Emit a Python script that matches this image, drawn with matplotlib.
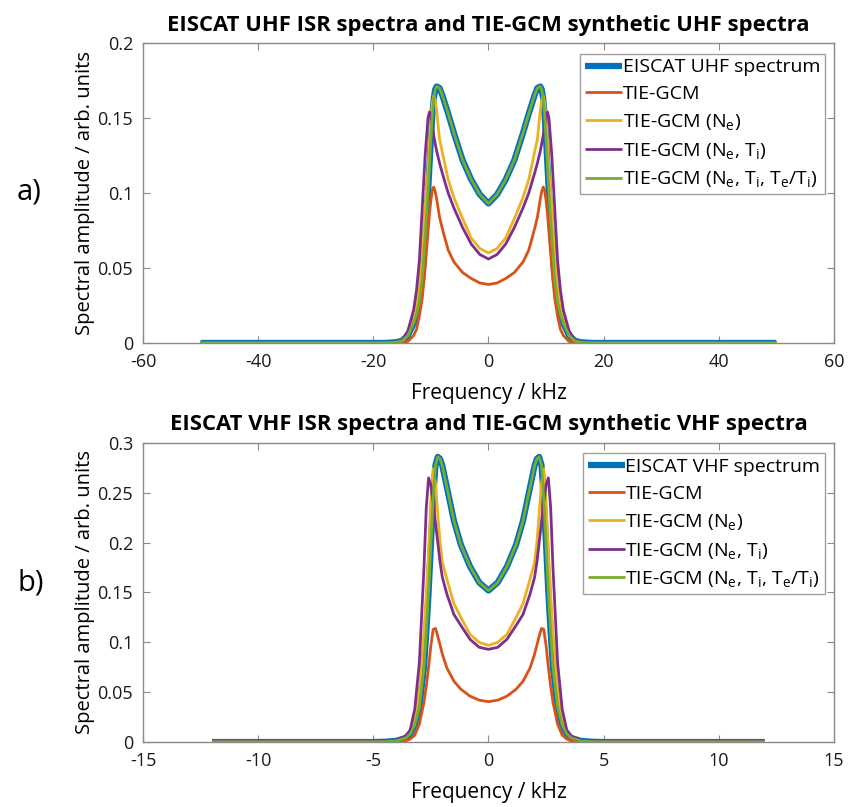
import matplotlib
matplotlib.use("Agg")
import matplotlib.pyplot as plt

# frequency grids (kHz)
freq_uhf = [-50, -18, -16, -15, -14, -13, -12.5, -12, -11.5, -11, -10.5, -10.25, -10, -9.75, -9.5, -9.25, -9,
            -8.5, -8, -7, -6, -4.5, -3, -1.5,
            0, 1.5, 3, 4.5, 6, 7, 8, 8.5, 9, 9.25, 9.5, 9.75, 10, 10.25, 10.5, 11, 11.5, 12, 12.5, 13, 14, 15,
            16, 18, 50]
freq_vhf = [-12, -5, -4.5, -4, -3.6, -3.4, -3.2, -3, -2.8, -2.7, -2.6, -2.5, -2.4, -2.3, -2.2, -2.1, -2, -1.8,
            -1.5, -1.2, -0.8, -0.4,
            0, 0.4, 0.8, 1.2, 1.5, 1.8, 2, 2.1, 2.2, 2.3, 2.4, 2.5, 2.6, 2.7, 2.8, 3, 3.2, 3.4, 3.6, 4, 4.5, 5, 12]

# UHF spectra (arb. units)
eiscat_uhf = [0, 0, 0.0005, 0.0015, 0.005, 0.013, 0.019, 0.028, 0.043, 0.07, 0.1, 0.118, 0.136, 0.152, 0.163,
              0.169, 0.171, 0.17, 0.165, 0.153, 0.14, 0.122, 0.109, 0.099,
              0.093, 0.099, 0.109, 0.122, 0.14, 0.153, 0.165, 0.17, 0.171, 0.169, 0.163, 0.152, 0.136, 0.118,
              0.1, 0.07, 0.043, 0.028, 0.019, 0.013, 0.005, 0.0015, 0.0005, 0, 0]
tgcm_uhf = [0, 0, 0, 0.0003, 0.001, 0.005, 0.009, 0.018, 0.03, 0.05, 0.074, 0.086, 0.095, 0.102, 0.104, 0.101,
            0.096, 0.084, 0.076, 0.062, 0.054, 0.047, 0.043, 0.04,
            0.039, 0.04, 0.043, 0.047, 0.054, 0.062, 0.076, 0.084, 0.096, 0.101, 0.104, 0.102, 0.095, 0.086,
            0.074, 0.05, 0.03, 0.018, 0.009, 0.005, 0.001, 0.0003, 0, 0, 0]
tgcm_ne_uhf = [0, 0, 0.0004, 0.0015, 0.005, 0.015, 0.024, 0.037, 0.06, 0.09, 0.115, 0.134, 0.15, 0.16, 0.165,
               0.162, 0.155, 0.136, 0.127, 0.109, 0.097, 0.083, 0.07, 0.063,
               0.06, 0.063, 0.07, 0.083, 0.097, 0.109, 0.127, 0.136, 0.155, 0.162, 0.165, 0.16, 0.15, 0.134,
               0.115, 0.09, 0.06, 0.037, 0.024, 0.015, 0.005, 0.0015, 0.0004, 0, 0]
tgcm_neti_uhf = [0, 0, 0.0006, 0.002, 0.008, 0.022, 0.035, 0.055, 0.09, 0.125, 0.15, 0.154, 0.152, 0.145, 0.138,
                 0.133, 0.128, 0.12, 0.113, 0.1, 0.09, 0.077, 0.066, 0.059,
                 0.056, 0.059, 0.066, 0.077, 0.09, 0.1, 0.113, 0.12, 0.128, 0.133, 0.138, 0.145, 0.152, 0.154,
                 0.15, 0.125, 0.09, 0.055, 0.035, 0.022, 0.008, 0.002, 0.0006, 0, 0]
tgcm_all_uhf = eiscat_uhf  # lies on top of the measured spectrum

# VHF spectra (arb. units)
eiscat_vhf = [0, 0, 0.0003, 0.0012, 0.004, 0.008, 0.017, 0.035, 0.075, 0.11, 0.15, 0.198, 0.245, 0.278, 0.286,
              0.284, 0.277, 0.255, 0.222, 0.198, 0.176, 0.16,
              0.152, 0.16, 0.176, 0.198, 0.222, 0.255, 0.277, 0.284, 0.286, 0.278, 0.245, 0.198, 0.15, 0.11,
              0.075, 0.035, 0.017, 0.008, 0.004, 0.0012, 0.0003, 0, 0]
tgcm_vhf = [0, 0, 0, 0.0003, 0.001, 0.003, 0.007, 0.018, 0.04, 0.056, 0.075, 0.097, 0.113, 0.114, 0.106, 0.097,
            0.088, 0.074, 0.061, 0.053, 0.046, 0.042,
            0.0405, 0.042, 0.046, 0.053, 0.061, 0.074, 0.088, 0.097, 0.106, 0.114, 0.113, 0.097, 0.075, 0.056,
            0.04, 0.018, 0.007, 0.003, 0.001, 0.0003, 0, 0, 0]
tgcm_ne_vhf = [0, 0, 0.0004, 0.0015, 0.005, 0.01, 0.022, 0.05, 0.11, 0.148, 0.19, 0.24, 0.274, 0.26, 0.228, 0.2,
               0.18, 0.163, 0.139, 0.125, 0.108, 0.1,
               0.097, 0.1, 0.108, 0.125, 0.139, 0.163, 0.18, 0.2, 0.228, 0.26, 0.274, 0.24, 0.19, 0.148, 0.11,
               0.05, 0.022, 0.01, 0.005, 0.0015, 0.0004, 0, 0]
tgcm_neti_vhf = [0, 0, 0.0005, 0.002, 0.006, 0.012, 0.033, 0.08, 0.175, 0.235, 0.265, 0.258, 0.24, 0.22, 0.2,
                 0.18, 0.165, 0.148, 0.128, 0.117, 0.103, 0.095,
                 0.093, 0.095, 0.103, 0.117, 0.128, 0.148, 0.165, 0.18, 0.2, 0.22, 0.24, 0.258, 0.265, 0.235,
                 0.175, 0.08, 0.033, 0.012, 0.006, 0.002, 0.0005, 0, 0]
tgcm_all_vhf = eiscat_vhf

labels_uhf = ["EISCAT UHF spectrum", "TIE-GCM", r"TIE-GCM (N$_{\rm e}$)",
              r"TIE-GCM (N$_{\rm e}$, T$_{\rm i}$)",
              r"TIE-GCM (N$_{\rm e}$, T$_{\rm i}$, T$_{\rm e}$/T$_{\rm i}$)"]
labels_vhf = ["EISCAT VHF spectrum"] + labels_uhf[1:]

COLORS = ["#0072BD", "#D95319", "#EDB120", "#7E2F8E", "#77AC30"]
WIDTHS = [4.5, 2.0, 2.0, 2.0, 2.0]
GREY = "#8a8a8a"

plt.rcParams["font.family"] = ["Open Sans", "DejaVu Sans"]
plt.rcParams["mathtext.fontset"] = "custom"
plt.rcParams["mathtext.rm"] = "Open Sans"
plt.rcParams["mathtext.it"] = "Open Sans:italic"
plt.rcParams["axes.unicode_minus"] = False


def draw_panel(ax, freq, series, labels, title, xlim, xticks, ylim, yticks):
    for vals, lab, c, lw in zip(series, labels, COLORS, WIDTHS):
        ax.plot(freq, vals, color=c, lw=lw, label=lab, solid_joinstyle="round", solid_capstyle="butt")
    ax.set_xlim(xlim)
    ax.set_ylim(ylim)
    ax.set_xticks(xticks)
    ax.set_yticks(yticks)
    ax.set_yticklabels([f"{t:g}" for t in yticks])
    ax.tick_params(direction="in", top=True, right=True, labelsize=13, labelcolor="#1a1a1a",
                   color=GREY, length=5, width=0.8)
    ax.tick_params(axis="y", pad=7)
    ax.tick_params(axis="x", pad=7)
    for s in ax.spines.values():
        s.set_color(GREY)
        s.set_linewidth(1.0)
    ax.set_title(title, fontsize=15.8, fontweight="bold", pad=9)
    ax.set_xlabel("Frequency / kHz", fontsize=15, labelpad=9)
    ax.set_ylabel("Spectral amplitude / arb. units", fontsize=14.5, labelpad=2)
    leg = ax.legend(loc="upper right", fontsize=14, frameon=True, fancybox=False,
                    handlelength=1.9, handletextpad=0.05, borderpad=0.25, labelspacing=0.45,
                    bbox_to_anchor=(0.9875, 0.965), borderaxespad=0.0)
    leg.get_frame().set_edgecolor(GREY)
    leg.get_frame().set_linewidth(1.0)


fig = plt.figure(figsize=(8.53, 8.07), dpi=100)
ax1 = fig.add_axes([0.1676, 0.575, 0.8101, 0.3717])
ax2 = fig.add_axes([0.1676, 0.0805, 0.8101, 0.3706])

draw_panel(ax1, freq_uhf, [eiscat_uhf, tgcm_uhf, tgcm_ne_uhf, tgcm_neti_uhf, tgcm_all_uhf], labels_uhf,
           "EISCAT UHF ISR spectra and TIE-GCM synthetic UHF spectra",
           (-60, 60), range(-60, 61, 20), (0, 0.2), [0, 0.05, 0.1, 0.15, 0.2])
draw_panel(ax2, freq_vhf, [eiscat_vhf, tgcm_vhf, tgcm_ne_vhf, tgcm_neti_vhf, tgcm_all_vhf], labels_vhf,
           "EISCAT VHF ISR spectra and TIE-GCM synthetic VHF spectra",
           (-15, 15), range(-15, 16, 5), (0, 0.3), [0, 0.05, 0.1, 0.15, 0.2, 0.25, 0.3])

fig.text(0.02, 0.762, "a)", fontsize=21, va="center")
fig.text(0.02, 0.277, "b)", fontsize=21, va="center")

fig.savefig("out.png", dpi=100)
